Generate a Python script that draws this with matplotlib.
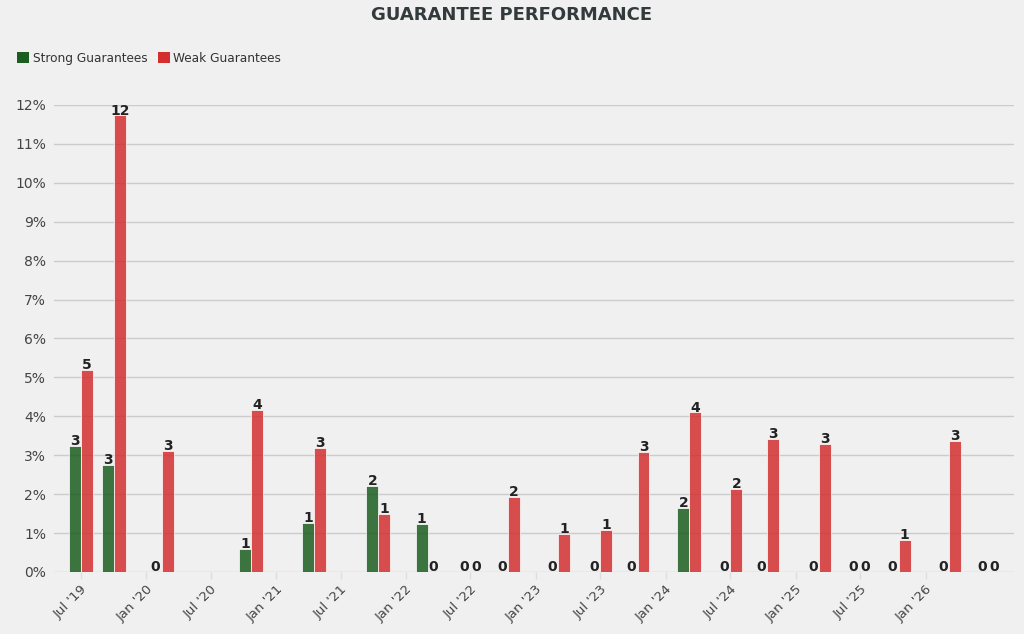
import matplotlib
matplotlib.use("Agg")
import matplotlib.pyplot as plt
import matplotlib.dates as mdates
from matplotlib.ticker import FuncFormatter, MultipleLocator
from matplotlib.patches import Patch
import numpy as np
import pandas as pd

# ---- data ----
dates = ["2019-07-01", "2019-10-03", "2020-02-14", "2020-10-22", "2021-04-17",
         "2021-10-15", "2022-03-03", "2022-07-01", "2022-10-14", "2023-03-04",
         "2023-07-01", "2023-10-14", "2024-03-08", "2024-07-01", "2024-10-13",
         "2025-03-08", "2025-06-28", "2025-10-17", "2026-03-08", "2026-06-25"]
strong = [3.25, 2.76, 0.0, 0.59, 1.27, 2.22, 1.23, 0.0, 0.0, 0.0,
          0.0, 0.0, 1.64, 0.0, 0.0, 0.0, 0.0, 0.0, 0.0, 0.0]
weak = [5.19, 11.73, 3.11, 4.17, 3.18, 1.48, 0.0, 0.0, 1.92, 0.98,
        1.09, 3.08, 4.10, 2.13, 3.41, 3.29, 0.0, 0.82, 3.36, 0.0]
series_names = ["Strong Guarantees", "Weak Guarantees"]
title = "GUARANTEE PERFORMANCE"
xtick_dates = pd.date_range("2019-07-01", "2026-01-01", freq="6MS")

# ---- style ----
bg = "#f0f0f0"
green = "#1b5e20"
red = "#d32f2f"
txt = "#333333"

fig = plt.figure(figsize=(10.24, 6.34), dpi=100, facecolor=bg)
ax = fig.add_axes([0.053, 0.0978, 0.937, 0.7366], facecolor=bg)

x = mdates.date2num(pd.to_datetime(dates))
w = 33.7  # days

b1 = ax.bar(x - w / 2, strong, width=w, color=green, alpha=0.85,
            edgecolor="white", linewidth=0.6, zorder=3)
b2 = ax.bar(x + w / 2, weak, width=w, color=red, alpha=0.85,
            edgecolor="white", linewidth=0.6, zorder=3)

for bars in (b1, b2):
    ax.bar_label(bars, fmt="%.0f", padding=-1.5, fontsize=10,
                 fontweight="bold", color="#222222", zorder=4)

ax.set_ylim(0, 12)
ax.yaxis.set_major_locator(MultipleLocator(1))
ax.yaxis.set_major_formatter(FuncFormatter(lambda v, p: f"{v:.0f}%"))
ax.grid(axis="y", color="#cccccc", linewidth=1, zorder=0)
ax.set_axisbelow(True)

xmin = mdates.date2num(pd.Timestamp("2019-04-18"))
xmax = mdates.date2num(pd.Timestamp("2026-09-06"))
ax.set_xlim(xmin, xmax)
ax.set_xticks(mdates.date2num(xtick_dates))
ax.set_xticklabels([d.strftime("%b '%y") for d in xtick_dates],
                   rotation=45, ha="right", rotation_mode="anchor")

for s in ax.spines.values():
    s.set_visible(False)
ax.tick_params(axis="x", colors="#dddddd", length=5, width=1, labelcolor="#444444",
               labelsize=9.5, pad=3)
ax.tick_params(axis="y", length=0, labelcolor="#444444", labelsize=10, pad=6)

fig.text(0.5, 0.977, title, ha="center", va="center", fontsize=13,
         fontweight="bold", color="#333a3c")

handles = [Patch(facecolor=green, edgecolor="none"), Patch(facecolor=red, edgecolor="none")]
fig.legend(handles, series_names, loc="center left", bbox_to_anchor=(0.012, 0.908),
           frameon=False, fontsize=8.7, handlelength=1.0, handleheight=1.0,
           handletextpad=0.3, columnspacing=0.85, ncol=2, labelcolor=txt,
           borderaxespad=0)

fig.savefig("out.png", dpi=100, facecolor=bg)
